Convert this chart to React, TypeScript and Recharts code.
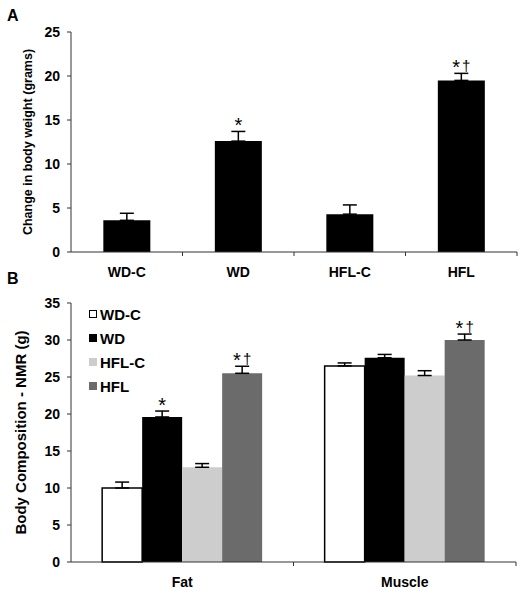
import { Bar, BarChart, ErrorBar, LabelList, Legend, XAxis, YAxis } from "recharts"

// panel A: change in body weight
const groups = ["WD-C", "WD", "HFL-C", "HFL"]
const weightChange = [3.6, 12.6, 4.3, 19.5]
const weightChangeSem = [0.8, 1.1, 1.05, 0.8]
const weightChangeSig = ["", "*", "", "*†"]
const weightTicks = [0, 5, 10, 15, 20, 25]

// panel B: body composition by NMR
const compartments = ["Fat", "Muscle"]
const wdcComp = [10.0, 26.5]
const wdcCompSem = [0.8, 0.4]
const wdComp = [19.6, 27.6]
const wdCompSem = [0.8, 0.45]
const hflcComp = [12.8, 25.2]
const hflcCompSem = [0.5, 0.65]
const hflComp = [25.5, 30.0]
const hflCompSem = [0.95, 0.8]
const wdcCompSig = ["", ""]
const wdCompSig = ["*", ""]
const hflcCompSig = ["", ""]
const hflCompSig = ["*†", "*†"]
const compTicks = [0, 5, 10, 15, 20, 25, 30, 35]

const FONT = "'Liberation Sans', Arial, sans-serif"
const AXIS = "#333"
const W = 529
const Y_W = 71
const A_H = 290
const A_MARGIN = { top: 32, right: 12, bottom: 8, left: 0 }
const B_H = 309
const B_MARGIN = { top: 13, right: 13, bottom: 7, left: 0 }

const series = [
  { key: "wdc", name: "WD-C", fill: "#ffffff", stroke: "#000", vals: wdcComp, sem: wdcCompSem, sig: wdcCompSig },
  { key: "wd", name: "WD", fill: "#000000", stroke: "none", vals: wdComp, sem: wdCompSem, sig: wdCompSig },
  { key: "hflc", name: "HFL-C", fill: "#cdcdcd", stroke: "none", vals: hflcComp, sem: hflcCompSem, sig: hflcCompSig },
  { key: "hfl", name: "HFL", fill: "#6b6b6b", stroke: "none", vals: hflComp, sem: hflCompSem, sig: hflCompSig },
]

const weightData = groups.map((g, i) => ({
  group: g,
  value: weightChange[i],
  err: [0, weightChangeSem[i]],
  sig: weightChangeSig[i],
}))

const compData = compartments.map((c, i) => {
  const row: any = { name: c }
  series.forEach((s) => {
    row[s.key] = s.vals[i]
    row[s.key + "Err"] = [0, s.sem[i]]
    row[s.key + "Sig"] = s.sig[i]
  })
  return row
})

// star / dagger sitting just above the error bar cap
const sigLabel = (vals: number[], sem: number[]) => (props: any) => {
  const { x, y, width, height, value, index } = props
  if (!value) return null
  const perUnit = height / vals[index]
  const top = y - sem[index] * perUnit
  const hasDagger = String(value).includes("†")
  return (
    <text x={x + width / 2} y={top + 1} textAnchor="middle" fontFamily={FONT} fill="#000">
      <tspan fontSize={20}>*</tspan>
      {hasDagger && (
        <tspan fontSize={15} dx={2} dy={-3}>
          †
        </tspan>
      )}
    </text>
  )
}

const catTick = (step: number) => (props: any) => {
  const { x, y, payload } = props
  return (
    <g>
      <line x1={x + step / 2} x2={x + step / 2} y1={y} y2={y + 4} stroke={AXIS} />
      <text x={x} y={y + 25} textAnchor="middle" fontSize={14} fontWeight="bold" fontFamily={FONT} fill="#000">
        {payload.value}
      </text>
    </g>
  )
}

const yTitle = (text: string, cx: number, size: number) => (props: any) => {
  const vb = props.viewBox
  const cy = vb.y + vb.height / 2
  return (
    <text
      x={cx}
      y={cy}
      transform={`rotate(-90, ${cx}, ${cy})`}
      textAnchor="middle"
      dominantBaseline="central"
      fontSize={size}
      fontWeight="bold"
      fontFamily={FONT}
      fill="#000"
    >
      {text}
    </text>
  )
}

const yTick = { fontSize: 14, fontWeight: "bold", fontFamily: FONT, fill: "#000" }

const CompLegend = () => (
  <div style={{ fontFamily: FONT }}>
    {series.map((s) => (
      <div key={s.key} style={{ display: "flex", alignItems: "center", height: 24 }}>
        <span
          style={{
            display: "inline-block",
            width: 8,
            height: 8,
            boxSizing: "border-box",
            background: s.fill,
            border: s.stroke === "none" ? "none" : "1px solid #000",
          }}
        />
        <span style={{ marginLeft: 3, fontSize: 15, fontWeight: "bold", color: "#000" }}>{s.name}</span>
      </div>
    ))}
  </div>
)

const panelLetter = { position: "absolute" as const, left: 7, fontSize: 16, fontWeight: "bold" as const, fontFamily: FONT }

export default function App() {
  return (
    <div style={{ position: "absolute", left: 0, top: 0, width: W, height: A_H + B_H, background: "#fff" }}>
      <div style={{ position: "absolute", left: 0, top: 0 }}>
        <BarChart width={W} height={A_H} data={weightData} margin={A_MARGIN} barCategoryGap="29%">
          <XAxis
            dataKey="group"
            height={30}
            axisLine={{ stroke: AXIS }}
            tickLine={false}
            tickSize={0}
            tickMargin={0}
            tick={catTick((W - Y_W - A_MARGIN.right) / groups.length)}
            interval={0}
          />
          <YAxis
            width={Y_W}
            domain={[0, 25]}
            ticks={weightTicks}
            axisLine={{ stroke: AXIS }}
            tickLine={{ stroke: AXIS }}
            tickSize={4}
            tickMargin={7}
            tick={yTick}
            label={{ content: yTitle("Change in body weight (grams)", 27.5, 12.5) }}
          />
          <Bar dataKey="value" fill="#000" isAnimationActive={false}>
            <ErrorBar dataKey="err" width={7} stroke="#000" strokeWidth={1.5} direction="y" />
            <LabelList dataKey="sig" content={sigLabel(weightChange, weightChangeSem)} />
          </Bar>
        </BarChart>
      </div>
      <div style={{ position: "absolute", left: 0, top: A_H }}>
        <BarChart width={W} height={B_H} data={compData} margin={B_MARGIN} barCategoryGap="14%" barGap={0}>
          <XAxis
            dataKey="name"
            height={30}
            axisLine={{ stroke: AXIS }}
            tickLine={false}
            tickSize={0}
            tickMargin={0}
            tick={catTick((W - Y_W - B_MARGIN.right) / compartments.length)}
            interval={0}
          />
          <YAxis
            width={Y_W}
            domain={[0, 35]}
            ticks={compTicks}
            axisLine={{ stroke: AXIS }}
            tickLine={{ stroke: AXIS }}
            tickSize={4}
            tickMargin={7}
            tick={yTick}
            label={{ content: yTitle("Body Composition - NMR (g)", 20, 15) }}
          />
          <Legend
            layout="vertical"
            align="center"
            verticalAlign="middle"
            wrapperStyle={{ top: 12, left: 89, width: "auto" }}
            content={<CompLegend />}
          />
          {series.map((s) => (
            <Bar
              key={s.key}
              dataKey={s.key}
              name={s.name}
              fill={s.fill}
              stroke={s.stroke}
              strokeWidth={1.5}
              isAnimationActive={false}
            >
              <ErrorBar dataKey={s.key + "Err"} width={7} stroke="#000" strokeWidth={1.5} direction="y" />
              <LabelList dataKey={s.key + "Sig"} content={sigLabel(s.vals, s.sem)} />
            </Bar>
          ))}
        </BarChart>
      </div>
      <div style={{ ...panelLetter, top: 7 }}>A</div>
      <div style={{ ...panelLetter, top: 270 }}>B</div>
    </div>
  )
}
